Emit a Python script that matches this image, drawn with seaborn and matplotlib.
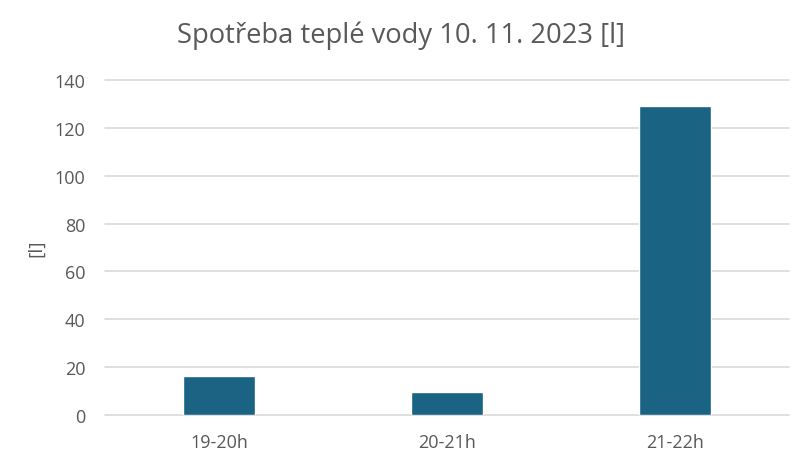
import matplotlib
matplotlib.use("Agg")
import matplotlib.pyplot as plt
import seaborn as sns
import pandas as pd

categories = ["19-20h", "20-21h", "21-22h"]
values = [16.2, 9.8, 129]
yticks = [0, 20, 40, 60, 80, 100, 120, 140]

sns.set_theme(style="white")
plt.rcParams['font.family'] = ['Open Sans', 'DejaVu Sans']

df = pd.DataFrame({"cat": categories, "val": values})
fig = plt.figure(figsize=(7.96, 4.6), dpi=100)
ax = fig.add_axes([0.132, 0.0957, 0.859, 0.728])
sns.barplot(data=df, x="cat", y="val", color="#1a6382", saturation=1, width=0.316, ax=ax, zorder=3)
ax.set_ylim(0, 140)
ax.set_yticks(yticks)
ax.yaxis.grid(True, color="#d9d9d9", linewidth=1.2)
for gl in ax.get_ygridlines():
    gl.set_clip_on(False)
ax.set_axisbelow(True)
for s in ax.spines.values():
    s.set_visible(False)
ax.tick_params(axis="both", length=0, labelsize=13, labelcolor="#595959")
ax.tick_params(axis="y", pad=14)
ax.tick_params(axis="x", pad=13)
ax.set_xlabel("")
ax.set_ylabel("[l]", fontsize=14, color="#595959", labelpad=7)
fig.text(0.504, 0.922, "Spotřeba teplé vody 10. 11. 2023 [l]", ha="center", va="center",
         fontsize=19.7, color="#595959")
fig.savefig("out.png", dpi=100)
